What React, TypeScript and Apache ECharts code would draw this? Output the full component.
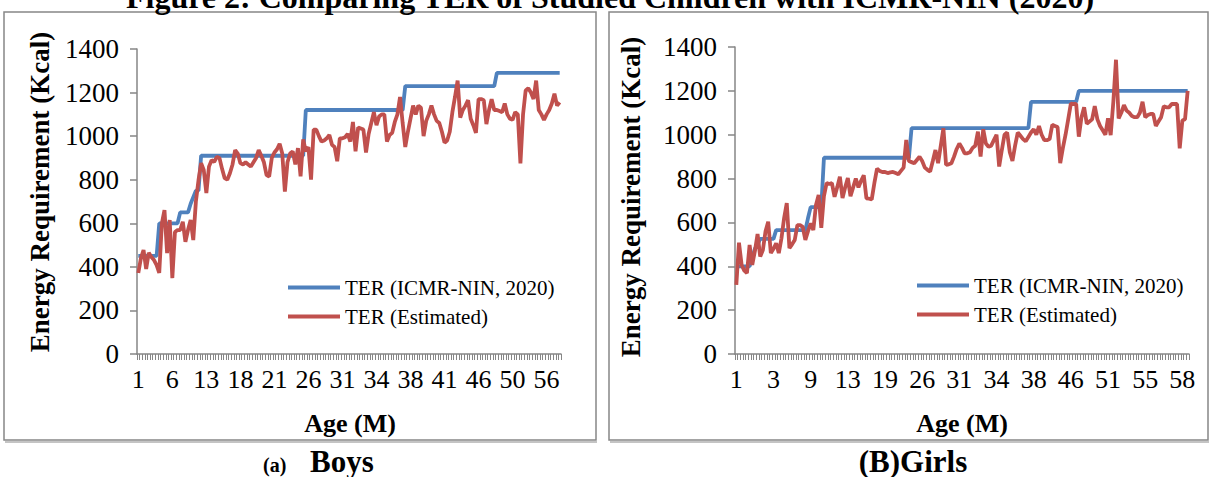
import React, { useEffect, useRef } from "react";
import * as echarts from "echarts";

const FONT = "Liberation Serif, Times New Roman, serif";
const BLUE = "#4F81BD";
const RED = "#C0504D";
const AXIS = "#868686";

const LEGEND_NAMES = ["TER (ICMR-NIN, 2020)", "TER (Estimated)"];

// Boys: age (months) per observation
const boysAge = [
  1, 1, 2, 2, 3, 4, 4, 5,
  6, 6, 6, 6, 6, 6, 7, 8,
  8, 9, 9, 10, 10, 11, 11, 11,
  12, 12,
  13, 13, 14, 14, 15, 15, 15, 16, 16, 16, 17, 17, 17,
  18, 18, 18, 19, 19, 19, 19, 20, 20, 20, 20, 20, 20,
  21, 21, 21, 22, 22, 22, 22, 23, 23, 23, 23, 23,
  25,
  26, 26, 27, 27, 28, 28, 29, 29, 29, 30, 30, 30, 30,
  31, 31, 31, 31, 32, 32, 32, 32, 33, 33, 33, 33, 33,
  34, 34, 34, 34, 35, 35, 35, 35, 35, 35, 35,
  36, 37,
  38, 38, 38, 38, 39, 39, 39, 39, 40, 40, 40, 40, 40,
  41, 41, 42, 42, 43, 43, 43, 44, 44, 44, 45, 45, 45,
  46, 46, 46, 47, 47, 47, 47,
  48, 48, 49, 49, 49, 49,
  50, 50, 51, 51, 52, 52, 52, 53, 53, 54, 54, 55, 55,
  56, 57, 57, 58, 58, 59,
];

const boysICMR = [
  450, 450, 450, 450, 450, 450, 450, 450,
  600, 600, 600, 600, 600, 600, 600, 600,
  650, 650, 650, 650, 690, 720, 750, 750,
  910, 910, 910, 910, 910, 910, 910, 910, 910, 910,
  910, 910, 910, 910, 910, 910, 910, 910, 910, 910,
  910, 910, 910, 910, 910, 910, 910, 910, 910, 910,
  910, 910, 910, 910, 910, 910, 910, 910, 910, 910,
  1120, 1120, 1120, 1120, 1120, 1120, 1120, 1120, 1120, 1120,
  1120, 1120, 1120, 1120, 1120, 1120, 1120, 1120, 1120, 1120,
  1120, 1120, 1120, 1120, 1120, 1120, 1120, 1120, 1120, 1120,
  1120, 1120, 1120, 1120, 1120, 1120, 1120, 1120,
  1230, 1230, 1230, 1230, 1230, 1230, 1230, 1230, 1230, 1230,
  1230, 1230, 1230, 1230, 1230, 1230, 1230, 1230, 1230, 1230,
  1230, 1230, 1230, 1230, 1230, 1230, 1230, 1230, 1230, 1230,
  1230, 1230, 1230, 1230, 1230,
  1290, 1290, 1290, 1290, 1290, 1290, 1290, 1290, 1290, 1290,
  1290, 1290, 1290, 1290, 1290, 1290, 1290, 1290, 1290, 1290,
  1290, 1290, 1290, 1290, 1290,
];

const boysTER = [
  372, 440, 477, 390, 465, 445, 431, 408, 372, 600,
  661, 463, 615, 348, 560, 569, 569, 607, 515, 570,
  615, 523, 700, 798, 876, 845, 739, 860, 890, 882,
  905, 900, 850, 807, 800, 830, 870, 936, 920, 876,
  870, 880, 870, 860, 880, 900, 936, 910, 880, 821,
  815, 900, 925, 940, 965, 920, 745, 880, 920, 930,
  870, 945, 815, 985, 930, 950, 800, 1030, 1030, 1000,
  975, 980, 990, 1005, 960, 950, 885, 990, 990, 995,
  1010, 975, 1065, 930, 1040, 1035, 1030, 925, 1010, 1060,
  1110, 1050, 1090, 1100, 1100, 975, 1005, 1015, 1065, 1100,
  1180, 1060, 950, 1020, 1080, 1140, 1100, 1140, 1130, 1000,
  1070, 1100, 1140, 1100, 1070, 1060, 1020, 970, 980, 1020,
  1110, 1180, 1255, 1085, 1120, 1140, 1165, 1080, 1050, 1015,
  1170, 1170, 1165, 1055, 1120, 1170, 1120, 1120, 1115, 1110,
  1150, 1100, 1080, 1075, 1110, 1100, 875, 1100, 1210, 1220,
  1200, 1170, 1255, 1120, 1100, 1075, 1100, 1120, 1150, 1195,
  1140, 1155,
];

// Girls: age (months) per observation
const girlsAge = [
  1, 1, 1, 1, 1, 1, 1, 2, 2, 2, 2, 2, 2, 2,
  3, 3, 3, 4, 4, 5, 5, 6, 6, 6, 7, 7, 8, 8,
  9, 9, 10, 10, 11, 12, 12, 12, 12, 12, 12, 12, 12, 12,
  13, 13, 14, 14, 15, 15, 16, 16, 17, 17, 18, 18, 18, 18,
  19, 19, 20, 20, 21, 21, 22, 22, 23, 23, 24, 24, 25, 25,
  26, 26, 27, 27, 28, 28, 28, 29, 29, 29, 30, 30, 30, 30,
  31, 31, 31, 31, 32, 32, 32, 32, 33, 33, 33, 33, 33, 33,
  34, 34, 34, 34, 34, 35, 35, 35, 35, 35, 35, 35, 35, 36,
  38, 38, 39, 39, 40, 40, 41, 41, 42, 43, 44, 44, 45, 45,
  46, 46, 47, 48, 48, 49, 49, 49, 50, 50, 50, 50, 50, 50,
  51, 51, 51, 52, 52, 52, 53, 53, 53, 54, 54, 54, 54, 54,
  55, 55, 55, 55, 56, 56, 56, 57, 57, 57, 57, 57, 57, 57,
  58, 58, 59,
];

const girlsICMR = [
  400, 400, 400, 400, 400, 400, 440, 480, 500,
  525, 525, 525, 525, 525, 525,
  565, 565, 565, 565, 565, 565, 565, 565, 565, 565, 565, 565,
  620,
  670, 670, 670, 670, 670,
  895, 895, 895, 895, 895, 895, 895, 895, 895, 895,
  895, 895, 895, 895, 895, 895, 895, 895, 895, 895,
  895, 895, 895, 895, 895, 895, 895, 895, 895, 895,
  895, 895, 895,
  1030, 1030, 1030, 1030, 1030, 1030, 1030, 1030, 1030, 1030,
  1030, 1030, 1030, 1030, 1030, 1030, 1030, 1030, 1030, 1030,
  1030, 1030, 1030, 1030, 1030, 1030, 1030, 1030, 1030, 1030,
  1030, 1030, 1030, 1030, 1030, 1030, 1030, 1030, 1030, 1030,
  1030, 1030, 1030, 1030, 1030,
  1150, 1150, 1150, 1150, 1150, 1150, 1150, 1150, 1150, 1150,
  1150, 1150, 1150, 1150, 1150, 1150, 1150, 1150,
  1200, 1200, 1200, 1200, 1200, 1200, 1200, 1200, 1200, 1200,
  1200, 1200, 1200, 1200, 1200, 1200, 1200, 1200, 1200, 1200,
  1200, 1200, 1200, 1200, 1200, 1200, 1200, 1200, 1200, 1200,
  1200, 1200, 1200, 1200, 1200, 1200, 1200, 1200, 1200, 1200,
  1200, 1200,
];

const girlsTER = [
  315, 508, 406, 380, 369, 497, 406, 470, 547, 444,
  474, 560, 603, 460, 480, 505, 460, 528, 620, 688,
  483, 500, 520, 588, 588, 580, 520, 560, 596, 565,
  680, 725, 575, 720, 779, 775, 779, 717, 760, 808,
  711, 760, 802, 720, 760, 800, 760, 790, 815, 710,
  708, 705, 780, 845, 835, 830, 830, 825, 828, 830,
  825, 820, 835, 850, 976, 880, 875, 870, 885, 900,
  880, 850, 840, 832, 880, 930, 870, 950, 1029, 862,
  865, 870, 900, 935, 960, 940, 915, 915, 920, 940,
  950, 1014, 900, 1025, 960, 945, 950, 975, 1000, 855,
  930, 1000, 1010, 920, 880, 950, 1010, 995, 980, 970,
  990, 1010, 1025, 1000, 1040, 1000, 975, 975, 980, 1045,
  1040, 1035, 870, 940, 1000, 1070, 1142, 1140, 1140, 991,
  1080, 1125, 1050, 1060, 1070, 1130, 1070, 1040, 1020, 1000,
  1075, 998, 1150, 1342, 1074, 1100, 1135, 1110, 1100, 1085,
  1080, 1080, 1100, 1150, 1080, 1090, 1095, 1095, 1040, 1060,
  1080, 1130, 1125, 1125, 1140, 1140, 1140, 938, 1065, 1070,
  1200,
];

const yTicks = { min: 0, max: 1400, interval: 200 };

function makeXAxis(gridIndex: number, data: number[], labelInterval: number) {
  return {
    type: "category",
    gridIndex,
    data,
    boundaryGap: true,
    axisLine: { show: true, lineStyle: { color: AXIS, width: 1.5 } },
    axisTick: {
      show: true,
      interval: 0,
      alignWithLabel: false,
      length: 6,
      lineStyle: { color: AXIS, width: 1 },
    },
    axisLabel: {
      interval: labelInterval,
      fontFamily: FONT,
      fontSize: 26,
      color: "#000",
      margin: 12,
    },
    splitLine: { show: false },
  };
}

function makeYAxis(gridIndex: number) {
  return {
    type: "value",
    gridIndex,
    ...yTicks,
    axisLine: { show: true, lineStyle: { color: AXIS, width: 1.5 } },
    axisTick: { show: true, length: 7, lineStyle: { color: AXIS, width: 1.5 } },
    axisLabel: {
      fontFamily: FONT,
      fontSize: 27,
      color: "#000",
      margin: 18,
      formatter: (v: number) => String(v),
    },
    splitLine: { show: false },
  };
}

function makeSeries(name: string, data: number[], color: string, idx: number) {
  return {
    name,
    type: "line",
    xAxisIndex: idx,
    yAxisIndex: idx,
    data,
    symbol: "none",
    lineStyle: { color, width: 3.8 },
    itemStyle: { color },
    emphasis: { disabled: true },
  };
}

function makeLegend(left: number, top: number) {
  return {
    data: LEGEND_NAMES,
    orient: "vertical",
    left,
    top,
    icon: "rect",
    itemWidth: 52,
    itemHeight: 4,
    itemGap: 8,
    selectedMode: false,
    textStyle: { fontFamily: FONT, fontSize: 21, color: "#000" },
  };
}

function txt(
  text: string,
  x: number,
  y: number,
  size: number,
  weight: string,
  extra: any = {}
) {
  return {
    type: "text",
    x,
    y,
    ...extra,
    style: {
      text,
      fontFamily: FONT,
      fontSize: size,
      fontWeight: weight,
      fill: "#000",
      align: extra.align || "center",
      verticalAlign: "middle",
    },
  };
}

export default function App() {
  const ref = useRef<HTMLDivElement>(null);

  useEffect(() => {
    if (!ref.current) return;
    const chart = echarts.init(ref.current, null, { renderer: "svg" });
    const option: any = {
      animation: false,
      backgroundColor: "#fff",
      textStyle: { fontFamily: FONT },
      grid: [
        { left: 137, top: 49, width: 424, height: 305, containLabel: false },
        { left: 735, top: 47, width: 454, height: 307, containLabel: false },
      ],
      xAxis: [makeXAxis(0, boysAge, 12), makeXAxis(1, girlsAge, 13)],
      yAxis: [makeYAxis(0), makeYAxis(1)],
      legend: [makeLegend(283, 272), makeLegend(912, 270)],
      series: [
        makeSeries(LEGEND_NAMES[0], boysICMR, BLUE, 0),
        makeSeries(LEGEND_NAMES[1], boysTER, RED, 0),
        makeSeries(LEGEND_NAMES[0], girlsICMR, BLUE, 1),
        makeSeries(LEGEND_NAMES[1], girlsTER, RED, 1),
      ],
      graphic: {
        elements: [
          {
            type: "rect",
            shape: { x: 4, y: 12, width: 592, height: 428 },
            style: { fill: "none", stroke: "#878787", lineWidth: 1.5 },
            silent: true,
          },
          {
            type: "rect",
            shape: { x: 609, y: 12, width: 599, height: 428 },
            style: { fill: "none", stroke: "#878787", lineWidth: 1.5 },
            silent: true,
          },
          {
            type: "line",
            shape: { x1: 5, y1: 442, x2: 597, y2: 442 },
            style: { stroke: "#c4c4c4", lineWidth: 2 },
            silent: true,
          },
          {
            type: "line",
            shape: { x1: 610, y1: 442, x2: 1209, y2: 442 },
            style: { stroke: "#c4c4c4", lineWidth: 2 },
            silent: true,
          },
          txt(
            "Figure 2: Comparing TER of Studied Children with ICMR-NIN (2020)",
            610,
            -3.3,
            32,
            "bold"
          ),
          txt("Energy Requirement (Kcal)", 40, 192, 27, "bold", {
            rotation: Math.PI / 2,
          }),
          txt("Energy Requirement (Kcal)", 631, 197, 27, "bold", {
            rotation: Math.PI / 2,
          }),
          txt("Age (M)", 350, 423, 26, "bold"),
          txt("Age (M)", 962, 423, 26, "bold"),
          txt("(a)", 263, 465, 20, "bold", { align: "left" }),
          txt("Boys", 310, 461.5, 31, "bold", { align: "left" }),
          txt("(B)Girls", 913, 461.5, 31, "bold"),
        ],
      },
    };
    chart.setOption(option);
    return () => chart.dispose();
  }, []);

  return (
    <div
      ref={ref}
      style={{
        position: "fixed",
        left: 0,
        top: 0,
        width: 1213,
        height: 477,
        background: "#fff",
      }}
    />
  );
}
